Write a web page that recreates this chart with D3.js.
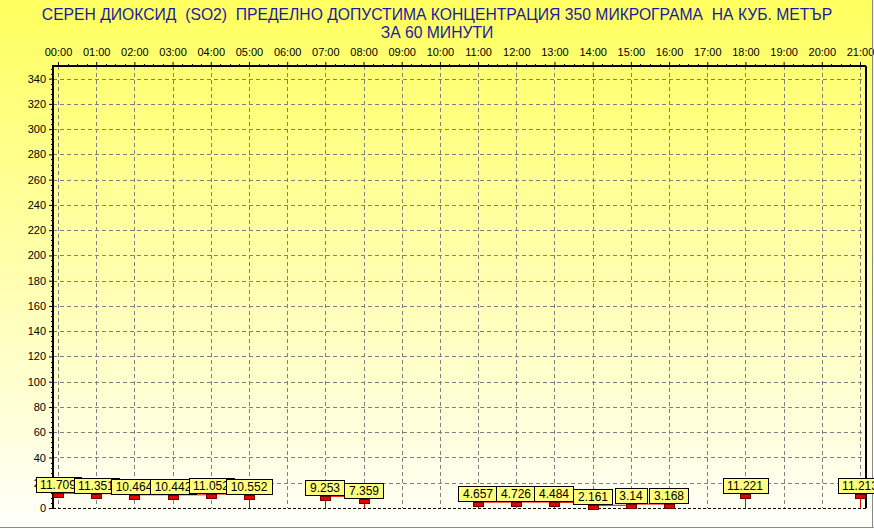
<!DOCTYPE html>
<html>
<head>
<meta charset="utf-8">
<script src="https://cdn.jsdelivr.net/npm/d3@7"></script>
<style>
  body { margin: 0; background: #fff; }
  svg text { font-family: "Liberation Sans", Arial, sans-serif; }
</style>
</head>
<body>
<div id="chart"></div>
<script>
const titleLines = [
  "СЕРЕН ДИОКСИД  (SO2)  ПРЕДЕЛНО ДОПУСТИМА КОНЦЕНТРАЦИЯ 350 МИКРОГРАМА  НА КУБ. МЕТЪР",
  "ЗА 60 МИНУТИ"
]
const hours = ["00:00","01:00","02:00","03:00","04:00","05:00","06:00","07:00","08:00","09:00","10:00",
               "11:00","12:00","13:00","14:00","15:00","16:00","17:00","18:00","19:00","20:00","21:00"]
const so2 = [11.709, 11.351, 10.464, 10.442, 11.052, 10.552, null, 9.253, 7.359, null, null,
             4.657, 4.726, 4.484, 2.161, 3.14, 3.168, null, 11.221, null, null, 11.213]
const yTicks = d3.range(0, 341, 20)

const W = 874, H = 529
const margin = { top: 66, right: 8, bottom: 21, left: 53 }
const plotR = W - margin.right, plotB = H - margin.bottom

const svg = d3.select('#chart').append('svg')
  .attr('width', W)
  .attr('height', H)

const defs = svg.append('defs')
const grad = defs.append('linearGradient')
  .attr('id', 'bg').attr('x1', 0).attr('y1', 0).attr('x2', 0).attr('y2', 1)
grad.append('stop').attr('offset', '0%').attr('stop-color', '#ffff5e')
grad.append('stop').attr('offset', '100%').attr('stop-color', '#fffffa')

svg.append('rect').attr('width', W).attr('height', H).attr('fill', 'url(#bg)')

// title
svg.append('g').selectAll('text')
  .data(titleLines)
  .join('text')
    .attr('x', W / 2)
    .attr('y', (d, i) => 20 + i * 18)
    .attr('text-anchor', 'middle')
    .attr('fill', '#1a1aa0')
    .style('font-size', '15.7px')
    .style('white-space', 'pre')
    .text(d => d)

const x = d3.scalePoint()
  .domain(hours)
  .range([58, 860])

const y = d3.scaleLinear()
  .domain([0, 350])
  .range([plotB, margin.top])

// grid
const grid = svg.append('g')
  .attr('stroke', '#808080')
  .attr('stroke-dasharray', '4,3')
  .attr('shape-rendering', 'crispEdges')
grid.selectAll('.hg')
  .data(yTicks.filter(d => d > 0))
  .join('line')
    .attr('x1', margin.left).attr('x2', plotR)
    .attr('y1', d => Math.round(y(d)) + 0.5).attr('y2', d => Math.round(y(d)) + 0.5)
grid.selectAll('.vg')
  .data(hours)
  .join('line')
    .attr('x1', d => Math.round(x(d)) + 0.5).attr('x2', d => Math.round(x(d)) + 0.5)
    .attr('y1', margin.top).attr('y2', plotB)

// left axis
const yAxis = d3.axisLeft(y).tickValues(yTicks).tickSize(4).tickPadding(3)
const gy = svg.append('g')
  .attr('transform', 'translate(' + margin.left + ',0)')
  .call(yAxis)
gy.select('.domain').remove()
gy.selectAll('text').style('font-size', '11px').attr('fill', '#000')
// minor ticks
svg.append('g').selectAll('line')
  .data(d3.range(0, 350, 4).filter(d => d % 20 != 0))
  .join('line')
    .attr('x1', margin.left - 2).attr('x2', margin.left)
    .attr('y1', d => Math.round(y(d)) + 0.5).attr('y2', d => Math.round(y(d)) + 0.5)
    .attr('stroke', '#000')

// top axis
const xAxis = d3.axisTop(x).tickSize(4).tickPadding(6)
const gx = svg.append('g')
  .attr('transform', 'translate(0,' + margin.top + ')')
  .call(xAxis)
gx.select('.domain').remove()
gx.selectAll('text').style('font-size', '11px').attr('fill', '#000')
const step = x.step()
svg.append('g').selectAll('line')
  .data(d3.range(0, 21 * 4).filter(d => d % 4 != 0))
  .join('line')
    .attr('x1', d => Math.round(x(hours[0]) + d * step / 4) + 0.5)
    .attr('x2', d => Math.round(x(hours[0]) + d * step / 4) + 0.5)
    .attr('y1', margin.top - 2).attr('y2', margin.top)
    .attr('stroke', '#000')

// frame
svg.append('line')
  .attr('x1', margin.left).attr('x2', plotR)
  .attr('y1', plotB + 0.5).attr('y2', plotB + 0.5)
  .attr('stroke', '#000').attr('stroke-dasharray', '3,2')
svg.append('line')
  .attr('x1', plotR).attr('x2', plotR)
  .attr('y1', margin.top).attr('y2', plotB)
  .attr('stroke', '#000').attr('stroke-width', 2)
svg.append('line')
  .attr('x1', margin.left - 1).attr('x2', plotR)
  .attr('y1', margin.top).attr('y2', margin.top)
  .attr('stroke', '#000').attr('stroke-width', 2)
svg.append('line')
  .attr('x1', margin.left).attr('x2', margin.left)
  .attr('y1', margin.top).attr('y2', plotB + 1)
  .attr('stroke', '#000').attr('stroke-width', 2)

// outer border
svg.append('line').attr('x1', 0).attr('x2', W).attr('y1', 527.5).attr('y2', 527.5).attr('stroke', '#8a8a8a')
svg.append('line').attr('x1', 872.5).attr('x2', 872.5).attr('y1', 0).attr('y2', 528).attr('stroke', '#8a8a8a')

// series
const pts = hours.map((h, i) => ({ h: h, v: so2[i], i: i }))
const line = d3.line()
  .defined(d => d.v != null)
  .x(d => x(d.h))
  .y(d => y(d.v))
  .curve(d3.curveStepAfter)
svg.append('path')
  .datum(pts)
  .attr('d', line)
  .attr('fill', 'none')
  .attr('stroke', '#e00000')

const present = pts.filter(d => d.v != null)
// stems next to a gap
svg.append('g').selectAll('line')
  .data(present.filter(d => (d.i > 0 && so2[d.i - 1] == null) || d.i == so2.length - 1 || so2[d.i + 1] == null))
  .join('line')
    .attr('x1', d => Math.round(x(d.h)) + 0.5).attr('x2', d => Math.round(x(d.h)) + 0.5)
    .attr('y1', d => y(d.v)).attr('y2', y(0))
    .attr('stroke', '#e00000')

svg.append('g').selectAll('rect')
  .data(present)
  .join('rect')
    .attr('x', d => Math.round(x(d.h)) - 4.5)
    .attr('y', d => Math.round(y(d.v)) + 0.5)
    .attr('width', 10)
    .attr('height', 4)
    .attr('fill', '#e80000')
    .attr('stroke', '#700000')

// marks
const marks = svg.append('g').selectAll('g')
  .data(present)
  .join('g')
    .attr('transform', d => 'translate(' + Math.round(x(d.h)) + ',' + Math.round(y(d.v)) + ')')
marks.append('text')
  .attr('y', -4)
  .attr('text-anchor', 'middle')
  .style('font-size', '12px')
  .text(d => d.v)
marks.each(function () {
  const g = d3.select(this)
  const w = g.select('text').node().getComputedTextLength() + 9
  g.insert('rect', 'text')
    .attr('x', -Math.round(w / 2) + 0.5)
    .attr('y', -15.5)
    .attr('width', Math.round(w))
    .attr('height', 15)
    .attr('fill', '#ffff80')
    .attr('stroke', '#000')
})
</script>
</body>
</html>
